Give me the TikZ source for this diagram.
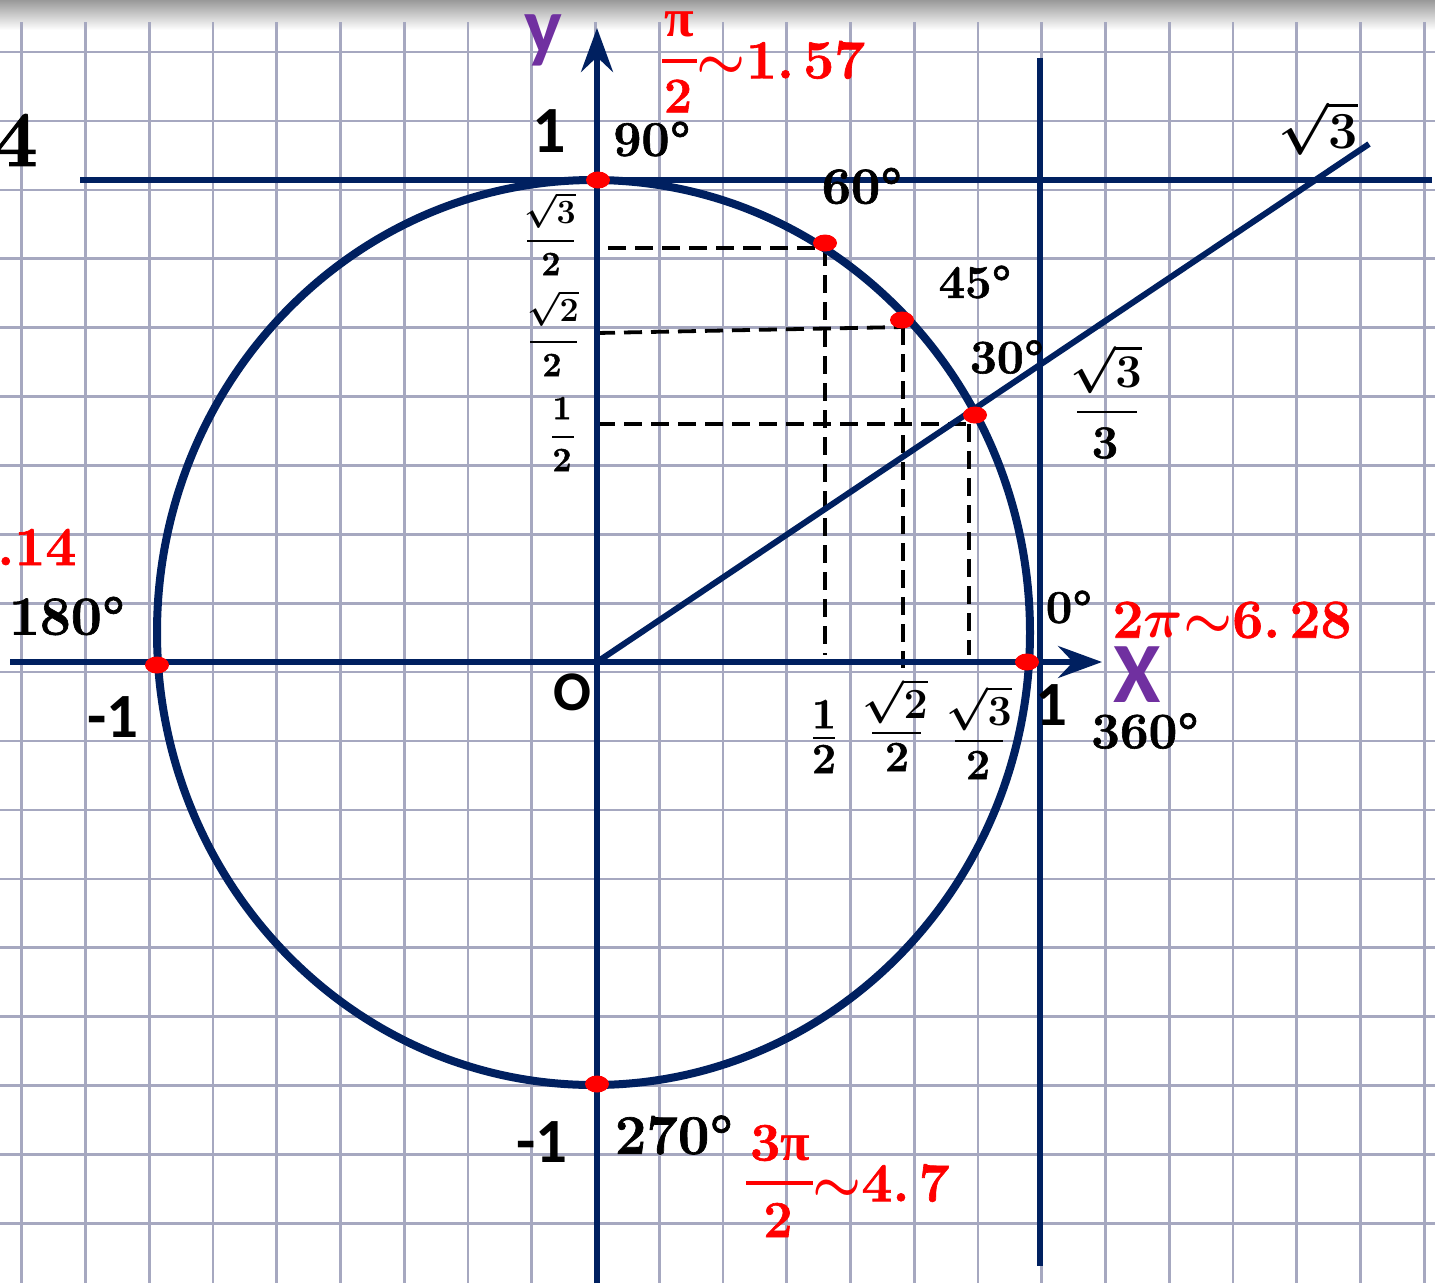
\RequirePackage{fix-cm}
\documentclass[tikz,border=0pt]{standalone}
\usepackage{amsmath}
\usepackage{fontspec}
\setmainfont{Latin Modern Roman}[BoldFeatures={FakeBold=1.2}]
\newfontfamily\calfont{Carlito}
\newfontfamily\libserif{Liberation Serif}
\usetikzlibrary{arrows.meta}
\definecolor{navy}{RGB}{0,32,96}
\definecolor{gridc}{RGB}{166,168,192}
\definecolor{redc}{RGB}{255,0,0}
\definecolor{purp}{RGB}{112,48,160}
\newcommand\fsz[1]{\fontsize{#1}{#1}\selectfont}
\newcommand\rpi{{\libserif\bfseries π}}
\newcommand\tld{\mathord{\sim}}
\begin{document}
\begin{tikzpicture}[x=1pt,y=-1pt,
  gridline/.style={gridc, line width=2.6pt},
  axisline/.style={navy, line width=5.5pt, -{Stealth[length=44pt,width=32pt,inset=15pt]}},
  tline/.style={navy, line width=5.5pt},
  dline/.style={black, line width=3.8pt, dash pattern=on 18pt off 9pt},
  rdot/.style={fill=redc},
  lab/.style={inner sep=0pt, anchor=center},
  deg/.style={lab, font=\bfseries\fsz{#1}},
  sansl/.style={lab, font=\calfont\bfseries\fsz{#1}},
  redl/.style={lab, text=redc, font=\boldmath\bfseries\fsz{#1}},
  frn/.style={lab, font=\boldmath\bfseries\fsz{#1}},
  fbar/.style={black, line width=2.8pt},
  rbar/.style={redc, line width=4pt}
]
\fill[white] (0,0) rectangle (1435,1283);
\useasboundingbox (0,0) rectangle (1435,1283);
\shade[top color=black!40, bottom color=white] (0,0) rectangle (1435,30);
% grid
\foreach \i in {0,...,22} \draw[gridline] ({21.7+63.75*\i},22) -- ({21.7+63.75*\i},1283);
\foreach \j in {0,...,17} \draw[gridline] (0,{52+68.9*\j}) -- (1435,{52+68.9*\j});

% coordinates
\coordinate (O) at (597,662);
\coordinate (C) at (593.5,632.5);
\coordinate (xs) at (10,662);
\coordinate (xe) at (1102,662);
\coordinate (ys) at (597,1283);
\coordinate (ye) at (597,28);
\coordinate (ht1) at (80,180);
\coordinate (ht2) at (1432,180);
\coordinate (vt1) at (1040,58);
\coordinate (vt2) at (1040,1266);
\coordinate (ray) at (1369,144);
\coordinate (P90) at (598,180);
\coordinate (P60) at (825,243);
\coordinate (P45) at (902,320);
\coordinate (P30) at (975,415);
\coordinate (P0) at (1027,662);
\coordinate (P180) at (157,665);
\coordinate (P270) at (597,1084);

% dashed projections
\coordinate (d60a) at (608,248);
\coordinate (d60b) at (825,248);
\coordinate (d60c) at (825,655);
\coordinate (d45a) at (597,333);
\coordinate (d45b) at (903,327);
\coordinate (d45c) at (903,668);
\coordinate (d30a) at (597,424);
\coordinate (d30b) at (969,424);
\coordinate (d30c) at (969,655);
\draw[dline] (d60a) -- (d60b);
\draw[dline] (d60b) -- (d60c);
\draw[dline] (d45a) -- (d45b);
\draw[dline] (d45b) -- (d45c);
\draw[dline] (d30a) -- (d30b);
\draw[dline] (d30b) -- (d30c);

% lines
\draw[tline] (ht1) -- (ht2);
\draw[tline, line width=6pt] (vt1) -- (vt2);
\draw[tline, line width=6pt] (O) -- (ray);
\draw[axisline] (xs) -- (xe);
\draw[axisline] (ys) -- (ye);
\draw[navy, line width=8pt] (C) ellipse [x radius=436.5, y radius=452.5];

% red points
\foreach \p in {P90,P60,P45,P30,P0,P180,P270}
  \fill[rdot] (\p) ellipse [x radius=12, y radius=8.5];

% degree labels
\node[deg=50] (l90) at (652,139) {90°};
\node[deg=52] (l60) at (862,186) {60°};
\node[deg=47] (l45) at (975,282) {45°};
\node[deg=48] (l30) at (1007,357) {30°};
\node[deg=55] (l180) at (67,616) {180°};
\node[deg=47] (l0) at (1069,607) {0°};
\node[deg=51] (l360) at (1145,731) {360°};
\node[deg=56] (l270) at (674,1135) {270°};
\node[deg=79, anchor=east] (l4) at (38,140) {4};

% sans labels
\node[sansl=66] (s1) at (549,131) {1};
\node[sansl=63] (sm1a) at (113,717) {-1};
\node[sansl=63] (sm1b) at (542,1142) {-1};
\node[sansl=56] (sO) at (572,692) {O};
\node[sansl=63] (s1r) at (1051,705) {1};
\node[sansl=86, text=purp] (sX) at (1137,675) {X};
\node[sansl=80, text=purp] (sy) at (543,40) {y};

% red labels
\node[redl=54] (rpi1) at (679,24) {\rpi};
\draw[rbar] (662,61) -- (697,61);
\node[redl=50] (r2a) at (678,96) {2};
\node[redl=55] (r157) at (781,60) {$\tld$1.\,57};
\node[redl=55] (r628) at (1232,620) {2$\pi\tld$6.\,28};
\node[redl=55, anchor=west] (r314) at (-3,547) {.14};
\node[redl=54] (r3pi) at (780,1143) {3\rpi};
\draw[rbar] (746,1183) -- (813,1183);
\node[redl=52] (r2b) at (778,1220) {2};
\node[redl=55] (r47) at (881,1183) {$\tld$4.\,7};

% fractions left of y-axis
\node[frn=34] (f1n) at (550,210) {$\sqrt{3}$};
\draw[fbar] (527,241) -- (574,241);
\node[frn=34] (f1d) at (551,264) {2};
\node[frn=34] (f2n) at (553,308) {$\sqrt{2}$};
\draw[fbar] (530,342) -- (577,342);
\node[frn=34] (f2d) at (552,365) {2};
\node[frn=34] (f3n) at (562,408) {1};
\draw[fbar] (552,437) -- (574,437);
\node[frn=34] (f3d) at (562,460) {2};
% fractions below x-axis
\node[frn=43] (f4n) at (824,714) {1};
\draw[fbar] (813,738) -- (835,738);
\node[frn=43] (f4d) at (824,759) {2};
\node[frn=43] (f5n) at (895,701) {$\sqrt{2}$};
\draw[fbar] (872,733) -- (921,733);
\node[frn=43] (f5d) at (897,757) {2};
\node[frn=43] (f6n) at (979,708) {$\sqrt{3}$};
\draw[fbar] (955,741) -- (1003,741);
\node[frn=43] (f6d) at (978,765) {2};
% tangent values
\node[frn=47] (f7n) at (1106,369) {$\sqrt{3}$};
\draw[fbar] (1077,412) -- (1137,412);
\node[frn=47] (f7d) at (1105,443) {3};
\node[frn=52] (f8) at (1318,128) {$\sqrt{3}$};
\end{tikzpicture}
\end{document}
